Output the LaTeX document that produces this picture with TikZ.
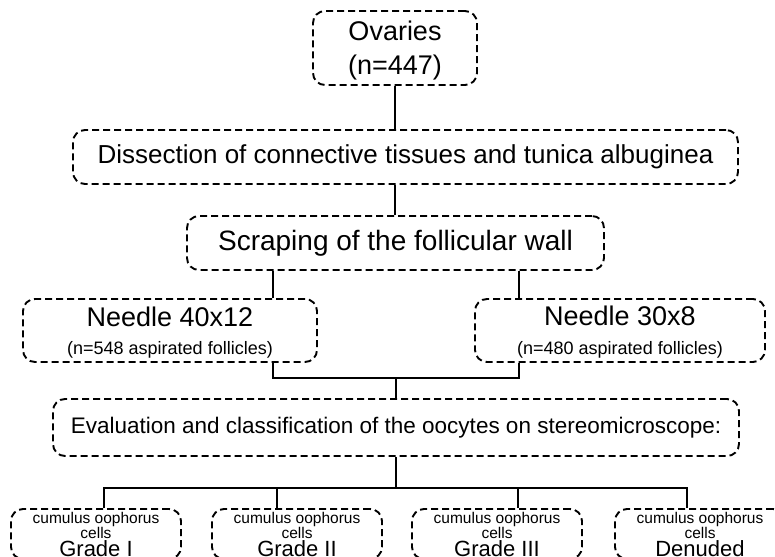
\documentclass[tikz,border=0pt]{standalone}
\usepackage{fontspec}
\setmainfont{Liberation Sans}
\usetikzlibrary{calc}

\begin{document}
\begin{tikzpicture}[x=1pt,y=-1pt]

        \tikzstyle{flowbox}=[draw,line width=1.9pt,dash pattern=on 7pt off 4pt,rounded corners=12pt,align=center,inner sep=0pt]
        \tikzstyle{link}=[line width=2.8pt]

        \useasboundingbox (0,0) rectangle (775,556);

        %% Upper steps
        \node [flowbox,minimum width=164pt,minimum height=74pt,text depth=0pt,font=\fontsize{27}{34}\selectfont] (ovaries) at (395,48) {Ovaries\\(n=447)};
        \node [flowbox,minimum width=665pt,minimum height=54pt,font=\fontsize{26}{30}\selectfont] (dissect) at (405.5,157) {Dissection of connective tissues and tunica albuginea};
        \node [flowbox,minimum width=417pt,minimum height=54pt,font=\fontsize{28}{30}\selectfont] (scrape) at (395.5,243) {Scraping of the follicular wall};

        %% Needles
        \node [flowbox,minimum width=294pt,minimum height=63pt,text depth=0pt,font=\fontsize{27}{30}\selectfont] (needleA) at (170,330.5) {Needle 40x12\\[-2pt]{\fontsize{18}{20}\selectfont (n=548 aspirated follicles)}};
        \node [flowbox,minimum width=290pt,minimum height=63pt,text depth=0pt,font=\fontsize{27}{30}\selectfont] (needleB) at (620,330.5) {Needle 30x8\\[-1pt]{\fontsize{18}{20}\selectfont (n=480 aspirated follicles)}};

        \node [flowbox,minimum width=686pt,minimum height=57pt,font=\fontsize{22.5}{26}\selectfont] (evaluate) at (396,427.5) {Evaluation and classification of the oocytes on stereomicroscope:};

        %% Grades
        \tikzstyle{gradebox}=[flowbox,minimum width=170pt,minimum height=50pt,text depth=0pt,font=\fontsize{15.5}{15}\selectfont]
        \node [gradebox] (gradeA) at (96,534) {cumulus oophorus\\cells\\[1pt]{\fontsize{22}{22}\selectfont Grade I}};
        \node [gradebox] (gradeB) at (297,534) {cumulus oophorus\\cells\\[1pt]{\fontsize{22}{22}\selectfont Grade II}};
        \node [gradebox] (gradeC) at (497,534) {cumulus oophorus\\cells\\[1pt]{\fontsize{22}{22}\selectfont Grade III}};
        \node [gradebox] (gradeD) at (700,534) {cumulus oophorus\\cells\\[1pt]{\fontsize{22}{22}\selectfont Denuded}};

        %% Connectors
        \coordinate (tapA) at (273,0);
        \coordinate (tapB) at (519,0);
        \coordinate (merge) at (396,378);
        \coordinate (fork) at (396,488);

        \draw[link] (ovaries.south) -- (ovaries.south |- dissect.north);
        \draw[link] (ovaries.south |- dissect.south) -- (ovaries.south |- scrape.north);
        \draw[link] (scrape.south -| tapA) -- (needleA.north -| tapA);
        \draw[link] (scrape.south -| tapB) -- (needleB.north -| tapB);
        \draw[link] (needleA.south -| tapA) |- (merge) -| (needleB.south -| tapB);
        \draw[link] (merge) -- (merge |- evaluate.north);
        \draw[link] (evaluate.south -| fork) -- (fork);
        \draw[link] (fork -| 103,0) -- (fork -| 688,0);
        \foreach \g/\x in {gradeA/104,gradeB/277,gradeC/518,gradeD/687}
            \draw[link] (fork -| \x,0) -- (\g.north -| \x,0);

\end{tikzpicture}
\end{document}
